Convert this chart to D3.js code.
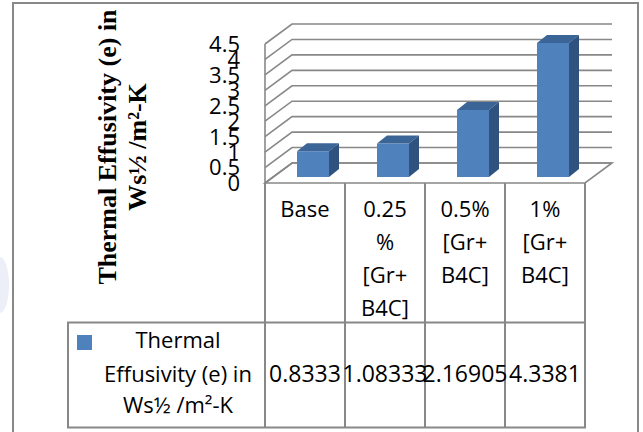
<!DOCTYPE html>
<html>
<head>
<meta charset="utf-8">
<script src="https://cdn.jsdelivr.net/npm/d3@7/dist/d3.min.js"></script>
<style>
  html, body { margin: 0; padding: 0; background: #ffffff; }
  svg { display: block; }
</style>
</head>
<body>
<svg id="chart" width="643" height="432"></svg>
<script>
// ---- data ----
const categories = ["Base", "0.25 % [Gr+ B4C]", "0.5% [Gr+ B4C]", "1% [Gr+ B4C]"];
const categoryLines = [["Base"], ["0.25", "%", "[Gr+", "B4C]"], ["0.5%", "[Gr+", "B4C]"], ["1%", "[Gr+", "B4C]"]];
const values = [0.8333, 1.08333, 2.16905, 4.3381];
const valueLabels = ["0.8333", "1.08333", "2.16905", "4.3381"];
const yTicks = [0, 0.5, 1, 1.5, 2, 2.5, 3, 3.5, 4, 4.5];
const seriesName = ["Thermal", "Effusivity (e) in", "Ws½ /m²-K"];
const yTitle = ["Thermal Effusivity (e) in", "Ws½ /m²-K"];

const svg = d3.select("#chart");
const grid = "#888888";
const font = "'Open Sans', sans-serif";

// faint watermark at left edge
svg.append("ellipse").attr("cx", 0).attr("cy", 285).attr("rx", 9).attr("ry", 28)
  .attr("fill", "#eceef8");

// outer border
svg.append("rect").attr("x", 13).attr("y", 3).attr("width", 625).attr("height", 440)
  .attr("fill", "#ffffff").attr("stroke", grid).attr("stroke-width", 2);

// scales
const x0 = 265, x1 = 585;
const x = d3.scaleBand().domain(categories).range([x0, x1]).paddingInner(0.6).paddingOuter(0.3);
const xCol = d3.scaleBand().domain(categories).range([x0, x1]).padding(0);
const y = d3.scaleLinear().domain([0, 4.5]).range([183, 44]);
const DX = 27, DY = -20;       // wall depth
const OX = 8, OY = -6;         // bar front offset
const BX = 10, BY = -8;        // bar depth

// walls / gridlines
const g = svg.append("g");
g.append("polygon")
  .attr("points", [[x0, y(0)], [x1, y(0)], [x1 + DX, y(0) + DY], [x0 + DX, y(0) + DY]].map(p => p.join(",")).join(" "))
  .attr("fill", "#ffffff").attr("stroke", grid).attr("stroke-width", 1.6);
yTicks.forEach(v => {
  g.append("polyline")
    .attr("points", [[x0, y(v)], [x0 + DX, y(v) + DY], [x1 + DX, y(v) + DY]].map(p => p.join(",")).join(" "))
    .attr("fill", "none").attr("stroke", grid).attr("stroke-width", 1.6);
});
g.append("line").attr("x1", x0).attr("x2", x0).attr("y1", y(0)).attr("y2", y(4.5))
  .attr("stroke", grid).attr("stroke-width", 1.6);

// y tick labels
svg.append("g").selectAll("text").data(yTicks).join("text")
  .attr("x", 240).attr("y", d => y(d)).attr("dy", "0.36em")
  .attr("text-anchor", "end")
  .attr("font-family", font).attr("font-size", 22).attr("fill", "#000")
  .text(d => d);

// bars
const bars = svg.append("g").selectAll("g").data(values).join("g");
bars.each(function (v, i) {
  const gb = d3.select(this);
  const bx = x(categories[i]) + OX;
  const bw = x.bandwidth();
  const top = y(v) + OY, bot = y(0) + OY;
  gb.append("rect").attr("x", bx).attr("y", top).attr("width", bw).attr("height", bot - top)
    .attr("fill", "#4F81BD");
  gb.append("polygon")
    .attr("points", [[bx, top], [bx + bw, top], [bx + bw + BX, top + BY], [bx + BX, top + BY]].map(p => p.join(",")).join(" "))
    .attr("fill", "#3C6597");
  gb.append("polygon")
    .attr("points", [[bx + bw, top], [bx + bw + BX, top + BY], [bx + bw + BX, bot + BY], [bx + bw, bot]].map(p => p.join(",")).join(" "))
    .attr("fill", "#30527F");
});

// data table
const t = svg.append("g");
const rowTop = 183, rowMid = 322.5, rowBot = 427.5, legLeft = 68;
xCol.domain().forEach((c, i) => {
  t.append("line").attr("x1", xCol(c)).attr("x2", xCol(c)).attr("y1", rowTop).attr("y2", rowBot)
    .attr("stroke", grid).attr("stroke-width", 2);
});
t.append("line").attr("x1", x1).attr("x2", x1).attr("y1", rowTop).attr("y2", rowBot)
  .attr("stroke", grid).attr("stroke-width", 2);
t.append("line").attr("x1", legLeft).attr("x2", legLeft).attr("y1", rowMid).attr("y2", rowBot)
  .attr("stroke", grid).attr("stroke-width", 2);
t.append("line").attr("x1", legLeft - 1).attr("x2", x1 + 1).attr("y1", rowMid).attr("y2", rowMid)
  .attr("stroke", grid).attr("stroke-width", 2);
t.append("line").attr("x1", legLeft - 1).attr("x2", x1 + 1).attr("y1", rowBot).attr("y2", rowBot)
  .attr("stroke", grid).attr("stroke-width", 2);

// category labels
categories.forEach((c, i) => {
  const cx = xCol(c) + xCol.bandwidth() / 2;
  const txt = t.append("text").attr("text-anchor", "middle")
    .attr("font-family", font).attr("font-size", 22).attr("fill", "#000");
  categoryLines[i].forEach((ln, j) => {
    txt.append("tspan").attr("x", cx).attr("y", 216.5 + j * 33).text(ln);
  });
});

// values
t.selectAll("text.val").data(values).join("text").attr("class", "val")
  .attr("x", (d, i) => xCol(categories[i]) + xCol.bandwidth() / 2)
  .attr("y", 381.5).attr("text-anchor", "middle")
  .attr("font-family", font).attr("font-size", 23).attr("fill", "#000")
  .text((d, i) => valueLabels[i]);

// legend key
t.append("rect").attr("x", 77).attr("y", 335).attr("width", 15).attr("height", 15).attr("fill", "#4F81BD");
const lt = t.append("text").attr("text-anchor", "middle")
  .attr("font-family", font).attr("font-size", 22).attr("fill", "#000");
seriesName.forEach((ln, j) => {
  lt.append("tspan").attr("x", 178).attr("y", [348, 381.5, 413][j]).text(ln);
});

// y axis title
const yt = svg.append("text")
  .attr("transform", "translate(0,147) rotate(-90)")
  .attr("text-anchor", "middle")
  .attr("font-family", "'Liberation Serif', 'Times New Roman', serif")
  .attr("font-weight", "bold").attr("font-size", 26).attr("fill", "#000");
yTitle.forEach((ln, j) => {
  yt.append("tspan").attr("x", 0).attr("y", [116, 146][j]).text(ln);
});
</script>
</body>
</html>
